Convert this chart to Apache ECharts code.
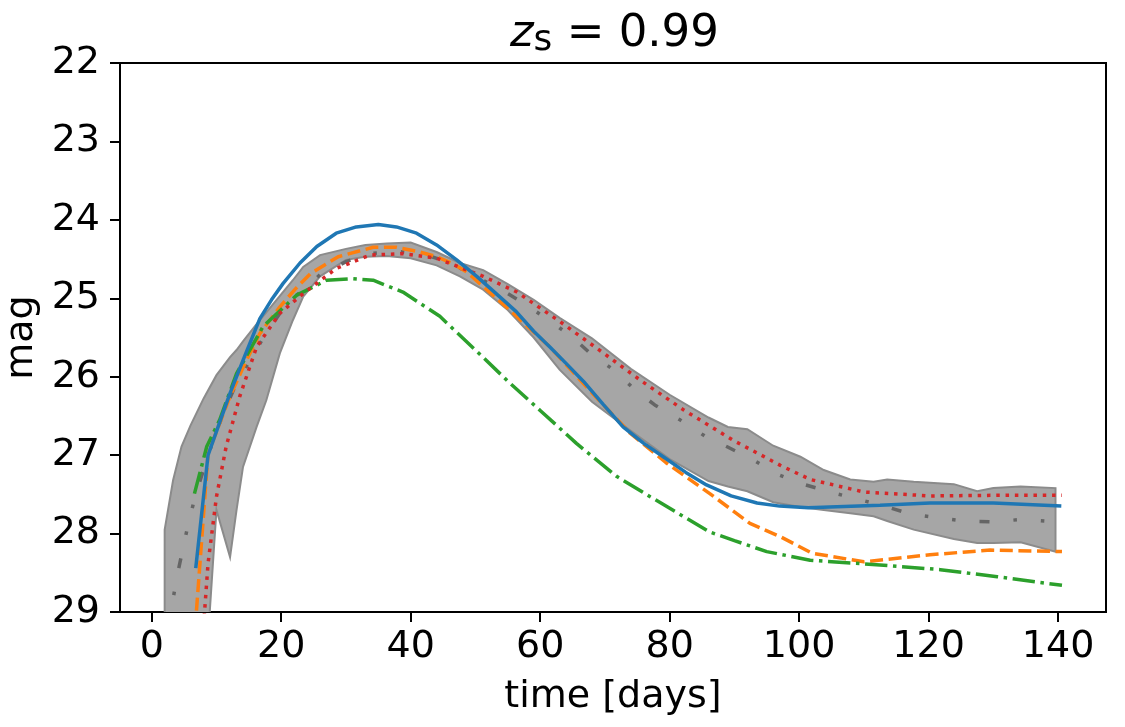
<!DOCTYPE html>
<html>
<head>
<meta charset="utf-8">
<script src="https://cdn.jsdelivr.net/npm/echarts@6/dist/echarts.min.js"></script>
<style>
  html, body { margin: 0; padding: 0; background: #fff; }
  #chart { width: 1125px; height: 727px; }
</style>
</head>
<body>
<div id="chart"></div>
<script>
// ticks
var xTicks = [0, 20, 40, 60, 80, 100, 120, 140];

// gray band (spread) and its median line
var bandDays  = [2, 3.3, 4.6, 6, 8, 10, 12.1, 13.1, 14.1, 16.2, 17.7, 19.8, 21.8, 23.4, 26, 30, 33, 36.3, 40, 44, 47.6, 51.2, 55, 59, 63, 68, 74, 80, 86, 89, 92, 96, 100.2, 103.8, 107.9, 111.5, 113.6, 117.7, 123.9, 127.5, 130, 134.2, 139.6];
var bandUpper = [27.95, 27.32, 26.89, 26.62, 26.28, 25.98, 25.75, 25.66, 25.55, 25.33, 25.18, 24.97, 24.77, 24.6, 24.45, 24.37, 24.32, 24.3, 24.29, 24.41, 24.55, 24.64, 24.82, 25.02, 25.25, 25.51, 25.9, 26.23, 26.52, 26.64, 26.67, 26.88, 27.02, 27.19, 27.31, 27.34, 27.31, 27.34, 27.37, 27.46, 27.42, 27.4, 27.42];
var bandLower = [30.5, 30.5, 30.5, 30.5, 30.2, 27.7, 28.3, 27.7, 27.15, 26.64, 26.3, 25.7, 25.28, 24.98, 24.72, 24.51, 24.47, 24.46, 24.49, 24.58, 24.72, 24.89, 25.15, 25.5, 25.91, 26.32, 26.69, 27.05, 27.33, 27.4, 27.46, 27.6, 27.66, 27.7, 27.74, 27.78, 27.84, 27.95, 28.07, 28.12, 28.12, 28.11, 28.23];

var grayDays = [2, 3.3, 4.1, 5.1, 5.9, 6.9, 8.5, 9.7, 11.3, 13.1, 17.2, 19.8, 22.4, 26, 30.1, 33.7, 37.8, 42.5, 46.1, 50, 54, 57.4, 61, 64.9, 67.7, 71.3, 74.7, 77.7, 81.6, 85.5, 88.8, 92.9, 96.8, 100.2, 104.8, 109, 112.8, 117.2, 121.5, 125.4, 129.8, 134.4, 139.6];
var grayMag  = [29.56, 28.83, 28.47, 28.08, 27.79, 27.47, 27.06, 26.76, 26.42, 26.08, 25.51, 25.19, 24.96, 24.7, 24.53, 24.43, 24.4, 24.45, 24.55, 24.72, 24.89, 25.06, 25.26, 25.49, 25.7, 25.91, 26.17, 26.36, 26.55, 26.76, 26.89, 27.06, 27.25, 27.36, 27.47, 27.56, 27.64, 27.75, 27.8, 27.84, 27.85, 27.82, 27.85];

// model curves
var blueDays = [6.8, 8.7, 12.1, 14.3, 16.7, 18.5, 20.3, 22.9, 25.5, 28.5, 31.6, 35, 37.8, 40.9, 44, 47.1, 50.2, 53.2, 56.3, 59, 61.5, 64, 66.7, 69.8, 72.8, 76, 79, 82.5, 85.7, 89.5, 93.5, 97, 101.4, 112.5, 120.2, 130, 140.5];
var blueMag  = [28.44, 27, 26.21, 25.75, 25.26, 25.02, 24.81, 24.55, 24.34, 24.17, 24.09, 24.06, 24.09, 24.17, 24.32, 24.51, 24.72, 24.94, 25.17, 25.42, 25.62, 25.83, 26.06, 26.36, 26.64, 26.85, 27.02, 27.22, 27.38, 27.52, 27.61, 27.65, 27.67, 27.64, 27.61, 27.61, 27.65];

var orangeDays = [6.7, 8.7, 12.1, 14.4, 16.7, 19.8, 22.2, 24.6, 28.8, 34.2, 37.8, 41.4, 44, 46.3, 48.6, 51.2, 55.3, 61.5, 67.6, 73.9, 79.5, 86.2, 92.4, 97.1, 102, 110, 120.2, 129.5, 140.6];
var orangeMag  = [29.22, 26.98, 26.25, 25.83, 25.45, 25.11, 24.88, 24.68, 24.47, 24.35, 24.35, 24.41, 24.47, 24.55, 24.66, 24.85, 25.15, 25.62, 26.17, 26.72, 27.1, 27.49, 27.87, 28.04, 28.25, 28.36, 28.27, 28.21, 28.23];

var greenDays = [6.6, 8.5, 10.5, 13.1, 17.2, 22.4, 27, 31.1, 34.2, 38.8, 44.5, 50, 55.3, 60, 65.6, 71.8, 77, 82.1, 86.2, 90, 95, 101.7, 112.5, 121.8, 130.6, 140.6];
var greenMag  = [27.49, 26.89, 26.55, 25.96, 25.36, 24.96, 24.77, 24.75, 24.77, 24.92, 25.23, 25.66, 26.08, 26.43, 26.85, 27.27, 27.53, 27.78, 27.98, 28.09, 28.23, 28.34, 28.4, 28.46, 28.55, 28.66];

var redDays = [7.9, 8.7, 10, 11.5, 13.6, 16.2, 19.8, 23.4, 28.5, 33.7, 38.8, 44, 51.2, 56.4, 63.1, 69.8, 75.4, 82.1, 89.8, 97.1, 101.7, 110, 120.2, 133.1, 140.6];
var redMag  = [29.3, 28.38, 27.53, 26.89, 26.25, 25.62, 25.19, 24.94, 24.62, 24.45, 24.43, 24.49, 24.72, 24.92, 25.3, 25.7, 26.04, 26.42, 26.81, 27.13, 27.31, 27.47, 27.52, 27.51, 27.51];

function pairs(xs, ys) {
    return xs.map(function (x, i) { return [x, ys[i]]; });
}

var font = 'DejaVu Sans';
var lw = 3.5;
var chart = echarts.init(document.getElementById('chart'));

var option = {
    animation: false,
    backgroundColor: '#fff',
    title: {
        text: '{i|z}{s|s} = 0.99',
        left: 505,
        top: 4,
        textStyle: {
            fontFamily: font,
            fontSize: 45,
            fontWeight: 'normal',
            color: '#000',
            rich: {
                i: { fontFamily: font, fontSize: 45, fontStyle: 'italic', color: '#000' },
                s: { fontFamily: font, fontSize: 36, color: '#000', padding: [14, 0, 0, 0] }
            }
        }
    },
    grid: {
        left: 120, right: 19, top: 63, bottom: 115,
        show: true, borderColor: '#000', borderWidth: 2,
        containLabel: false,
        outerBoundsMode: 'none'
    },
    xAxis: {
        type: 'value',
        min: -4.9,
        max: 147.4,
        name: 'time [days]',
        nameLocation: 'middle',
        nameGap: 66,
        nameTextStyle: { fontFamily: font, fontSize: 38, color: '#000' },
        axisLine: { show: true, onZero: false, lineStyle: { color: '#000', width: 2 } },
        axisTick: { show: true, length: 10, lineStyle: { color: '#000', width: 2 }, customValues: xTicks },
        axisLabel: { fontFamily: font, fontSize: 38, color: '#000', margin: 16, customValues: xTicks },
        splitLine: { show: false }
    },
    yAxis: {
        type: 'value',
        inverse: true,
        min: 22,
        max: 29,
        interval: 1,
        name: 'mag',
        nameLocation: 'middle',
        nameGap: 70,
        nameRotate: 90,
        nameTextStyle: { fontFamily: font, fontSize: 38, color: '#000' },
        axisLine: { show: true, onZero: false, lineStyle: { color: '#000', width: 2 } },
        axisTick: { show: true, length: 10, lineStyle: { color: '#000', width: 2 } },
        axisLabel: { fontFamily: font, fontSize: 38, color: '#000', margin: 20 },
        splitLine: { show: false }
    },
    series: [
        {
            type: 'custom',
            name: 'band',
            clip: true,
            z: 1,
            data: [[bandDays[0], bandUpper[0]]],
            renderItem: function (params, api) {
                var pts = [];
                for (var i = 0; i < bandDays.length; i++) {
                    pts.push(api.coord([bandDays[i], bandUpper[i]]));
                }
                for (var j = bandDays.length - 1; j >= 0; j--) {
                    pts.push(api.coord([bandDays[j], bandLower[j]]));
                }
                return {
                    type: 'polygon',
                    shape: { points: pts },
                    style: { fill: '#a6a6a6', stroke: '#8b8b8b', lineWidth: 2 }
                };
            }
        },
        {
            type: 'line', name: 'median', z: 2,
            data: pairs(grayDays, grayMag),
            showSymbol: false, symbol: 'none',
            lineStyle: { color: '#656565', width: lw, type: [10, 24, 3.5, 24, 3.5, 24] }
        },
        {
            type: 'line', name: 'orange', z: 3,
            data: pairs(orangeDays, orangeMag),
            showSymbol: false, symbol: 'none',
            lineStyle: { color: '#ff7f0e', width: lw, type: [13, 5.6] }
        },
        {
            type: 'line', name: 'green', z: 3,
            data: pairs(greenDays, greenMag),
            showSymbol: false, symbol: 'none',
            lineStyle: { color: '#2ca02c', width: lw, type: [22.4, 5.6, 3.5, 5.6] }
        },
        {
            type: 'line', name: 'red', z: 3,
            data: pairs(redDays, redMag),
            showSymbol: false, symbol: 'none',
            lineStyle: { color: '#d62728', width: lw, type: [3.5, 5.8] }
        },
        {
            type: 'line', name: 'blue', z: 4,
            data: pairs(blueDays, blueMag),
            showSymbol: false, symbol: 'none',
            lineStyle: { color: '#1f77b4', width: lw }
        }
    ]
};

chart.setOption(option);
</script>
</body>
</html>
